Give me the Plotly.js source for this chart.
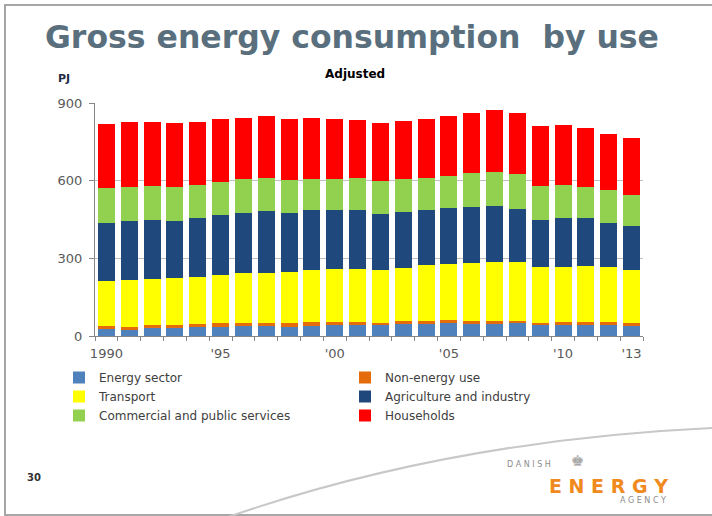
<!DOCTYPE html>
<html>
<head>
<meta charset="utf-8">
<script src="https://cdn.plot.ly/plotly-3.0.1.min.js"></script>
<style>
html,body{margin:0;padding:0;background:#fff;}
#chart{width:712px;height:516px;}
</style>
</head>
<body>
<div id="chart"></div>
<script>
// ---- data (PJ) ----
const years = ['1990','1991','1992','1993','1994','1995','1996','1997','1998','1999','2000','2001','2002','2003','2004','2005','2006','2007','2008','2009','2010','2011','2012','2013'];
const tickLabels = ['1990','','','','',"'95",'','','','',"'00",'','','','',"'05",'','','','',"'10",'','',"'13"];
const energySector = [27,22,29,29,33,36,37,37,36,40,42,42,41,45,45,49,45,45,49,41,42,42,42,40];
const nonEnergyUse = [13,14,13,13,13,13,14,12,13,13,13,13,10,14,13,14,14,14,10,10,12,12,12,9];
const transport = [174,181,177,181,183,187,194,196,200,201,205,205,204,205,215,216,222,228,228,214,214,217,211,205];
const agricultureIndustry = [223,229,231,223,227,232,231,237,227,232,226,226,217,215,213,216,218,216,205,185,186,183,172,172];
const commercialPublic = [133,130,129,130,127,128,130,127,128,122,122,125,128,126,125,124,129,132,134,129,129,122,128,119];
const households = [249,252,249,246,245,242,235,240,234,233,230,224,224,227,227,232,235,238,234,231,232,227,217,218];

const seriesNames = ['Energy sector','Non-energy use','Transport','Agriculture and industry','Commercial and public services','Households'];
const seriesValues = [energySector, nonEnergyUse, transport, agricultureIndustry, commercialPublic, households];
const seriesColors = ['#4F81BD','#E46C0A','#FFFF00','#1F497D','#92D050','#FF0000'];

// ---- geometry helpers (pixels -> paper) ----
const W = 712, H = 516;
const M = {l:95, r:69, t:103, b:180};
const PW = W - M.l - M.r, PH = H - M.t - M.b;
const px = x => (x - M.l) / PW;
const py = y => (H - M.b - y) / PH;

const traces = seriesNames.map((n, i) => ({
  type: 'bar',
  name: n,
  x: years,
  y: seriesValues[i],
  marker: {color: seriesColors[i], line: {width: 0}},
  hoverinfo: 'x+y+name'
}));

const FONT = 'DejaVu Sans, Verdana, sans-serif';

const arcPath = `M ${px(228)} ${py(517)} Q ${px(450)} ${py(440)} ${px(713)} ${py(428)}`;

const layout = {
  width: W, height: H,
  margin: M,
  paper_bgcolor: '#ffffff',
  plot_bgcolor: '#ffffff',
  barmode: 'stack',
  bargap: 0.255,
  font: {family: FONT, color: '#595959'},
  title: {
    text: '<b>Gross energy consumption  by use</b>',
    font: {family: FONT, size: 31.5, color: '#5A6F7D'},
    xref: 'container', yref: 'container',
    x: 352 / W, xanchor: 'center',
    y: 1 - 37 / H, yanchor: 'middle'
  },
  xaxis: {
    type: 'category',
    tickvals: years,
    ticktext: tickLabels,
    tickson: 'boundaries',
    ticks: 'outside', ticklen: 4, tickcolor: '#868686',
    showline: true, linecolor: '#868686', linewidth: 1,
    showgrid: false,
    tickangle: 0,
    ticklabelstandoff: 5,
    tickfont: {family: FONT, size: 13, color: '#595959'}
  },
  yaxis: {
    range: [0, 900],
    tickvals: [0, 300, 600, 900],
    ticks: 'outside', ticklen: 5, tickcolor: '#868686',
    showline: true, linecolor: '#868686', linewidth: 1,
    showgrid: true, gridcolor: '#BFBFBF', gridwidth: 1.5,
    zeroline: false,
    ticklabelstandoff: 4,
    tickfont: {family: FONT, size: 13, color: '#595959'}
  },
  legend: {
    orientation: 'h',
    traceorder: 'normal',
    x: px(59), xanchor: 'left',
    y: py(363), yanchor: 'top',
    entrywidth: 241, entrywidthmode: 'pixels',
    font: {family: FONT, size: 12, color: '#404040'},
    bgcolor: 'rgba(0,0,0,0)'
  },
  annotations: [
    {text: '<b>PJ</b>', xref: 'paper', yref: 'paper', x: px(64), y: py(79), showarrow: false,
     font: {family: FONT, size: 11, color: '#1F2A44'}, xanchor: 'center', yanchor: 'middle'},
    {text: '<b>Adjusted</b>', xref: 'paper', yref: 'paper', x: px(355), y: py(74), showarrow: false,
     font: {family: FONT, size: 12, color: '#000000'}, xanchor: 'center', yanchor: 'middle'},
    {text: '<b>30</b>', xref: 'paper', yref: 'paper', x: px(34), y: py(477), showarrow: false,
     font: {family: FONT, size: 10, color: '#333333'}, xanchor: 'center', yanchor: 'middle'},
    {text: 'D A N I S H', xref: 'paper', yref: 'paper', x: px(529), y: py(464), showarrow: false,
     font: {family: FONT, size: 8, color: '#8C8C8C'}, xanchor: 'center', yanchor: 'middle'},
    {text: '♚', xref: 'paper', yref: 'paper', x: px(577), y: py(461), showarrow: false,
     font: {family: FONT, size: 15, color: '#A6A6A6'}, xanchor: 'center', yanchor: 'middle'},
    {text: '<b>E N E R G Y</b>', xref: 'paper', yref: 'paper', x: px(608), y: py(486), showarrow: false,
     font: {family: FONT, size: 19, color: '#F08A1E'}, xanchor: 'center', yanchor: 'middle'},
    {text: 'A G E N C Y', xref: 'paper', yref: 'paper', x: px(643), y: py(501), showarrow: false,
     font: {family: FONT, size: 8, color: '#8C8C8C'}, xanchor: 'center', yanchor: 'middle'}
  ],
  shapes: [
    {type: 'line', xref: 'paper', yref: 'paper', x0: px(4), x1: px(712), y0: py(5), y1: py(5),
     line: {color: '#A6A6A6', width: 2}},
    {type: 'line', xref: 'paper', yref: 'paper', x0: px(5), x1: px(5), y0: py(4), y1: py(515),
     line: {color: '#A6A6A6', width: 2}},
    {type: 'line', xref: 'paper', yref: 'paper', x0: px(4), x1: px(712), y0: py(515), y1: py(515),
     line: {color: '#A6A6A6', width: 2}},
    {type: 'path', xref: 'paper', yref: 'paper', path: arcPath,
     line: {color: '#C8C8C8', width: 2}}
  ]
};

Plotly.newPlot('chart', traces, layout, {displayModeBar: false, staticPlot: true});
</script>
</body>
</html>
